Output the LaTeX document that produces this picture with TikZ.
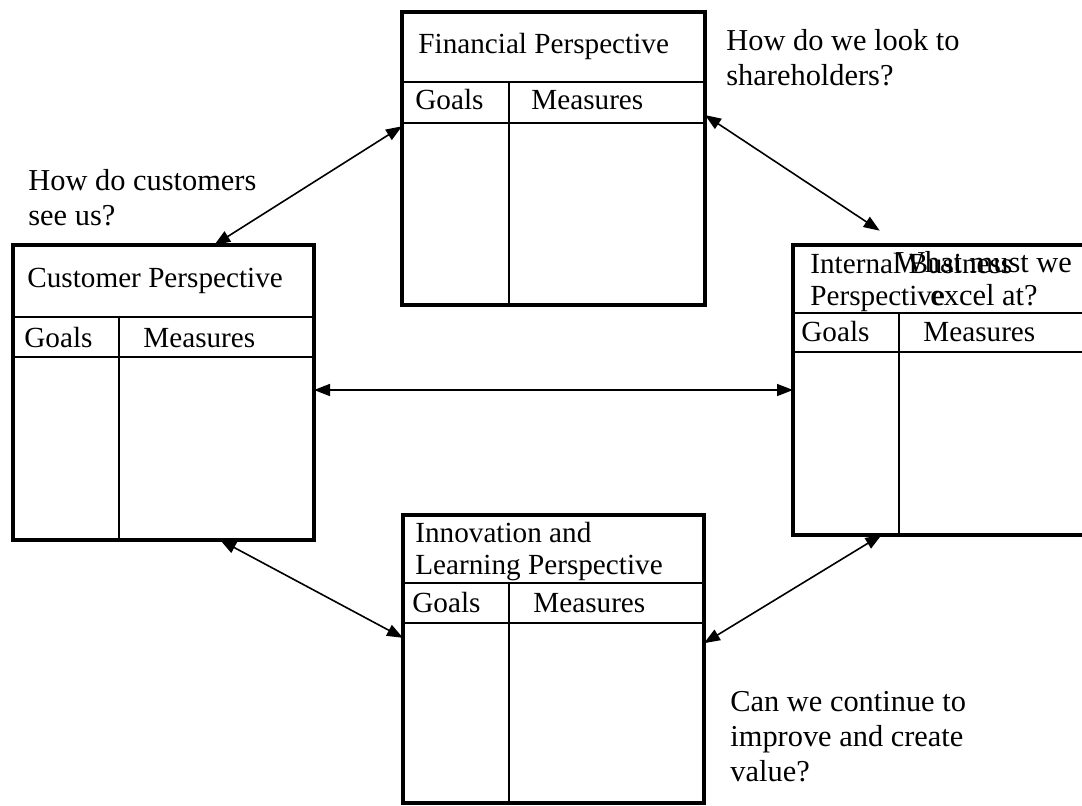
\documentclass[tikz,border=0pt]{standalone}
\usepackage{fontspec}
\setmainfont{Liberation Serif}
\usetikzlibrary{arrows.meta}

\begin{document}
\begin{tikzpicture}[x=0.5pt,y=-0.5pt,
    box/.style={draw,line width=2.2pt,inner sep=0pt,outer sep=0pt},
    rule/.style={line width=1.1pt},
    link/.style={{Triangle[length=8pt,width=6pt]}-{Triangle[length=8pt,width=6pt]},line width=0.8pt},
    txt/.style={font=\fontsize{14.6}{16}\selectfont,inner sep=0pt,anchor=base west,align=left},
    ask/.style={txt,font=\fontsize{15.2}{17.5}\selectfont}]
    \useasboundingbox (0,0) rectangle (1082,805);

    % the four perspectives
    \node[box,minimum width=151.5pt,minimum height=146.5pt] (fin) at (553.5,158.5) {};
    \node[box,minimum width=150.5pt,minimum height=147.5pt] (cust) at (163.5,392.5) {};
    \node[box,minimum width=150pt,minimum height=145pt] (int) at (943,390) {};
    \node[box,minimum width=150.5pt,minimum height=144pt] (inn) at (553.5,659) {};

    % table rules
    \draw[rule] (402,82) -- (705,82) (402,123) -- (705,123) (509,82) -- (509,305);
    \draw[rule] (13,317) -- (314,317) (13,357) -- (314,357) (119,317) -- (119,540);
    \draw[rule] (793,313) -- (1093,313) (793,352) -- (1093,352) (899,313) -- (899,535);
    \draw[rule] (403,583) -- (704,583) (403,623) -- (704,623) (509,583) -- (509,803);

    % headings (base = last line)
    \node[txt] (fintitle) at (418,53) {Financial Perspective};
    \node[txt] (fingoals) at (415,109) {Goals};
    \node[txt] (finmeas) at (531,109) {Measures};
    \node[txt] (custtitle) at (27,287) {Customer Perspective};
    \node[txt] (custgoals) at (24,347) {Goals};
    \node[txt] (custmeas) at (143,347) {Measures};
    \node[txt] (inttitle) at (810,305) {Internal Business\\Perspective};
    \node[txt] (intgoals) at (801,341) {Goals};
    \node[txt] (intmeas) at (923,341) {Measures};
    \node[txt] (inntitle) at (415,574) {Innovation and\\Learning Perspective};
    \node[txt] (inngoals) at (412,612) {Goals};
    \node[txt] (innmeas) at (533,612) {Measures};

    % questions
    \node[ask] (qcust) at (28,225) {How do customers\\see us?};
    \node[ask] (qfin) at (726,85) {How do we look to\\shareholders?};
    \node[ask,anchor=base,align=center,font=\fontsize{15.2}{16.5}\selectfont] (qint) at (984,305) {What must we\\excel at?};
    \node[ask] (qinn) at (730,781) {Can we continue to\\improve and create\\value?};

    % links
    \draw[link] (fin.168) -- (cust.71);
    \draw[link,shorten >=13pt] (fin.16) -- (int.106);
    \draw[link] (cust.east |- int.west) -- (int.west);
    \draw[link] (cust.-69) -- (inn.172);
    \draw[link] (int.-113) -- (inn.6);
\end{tikzpicture}
\end{document}
